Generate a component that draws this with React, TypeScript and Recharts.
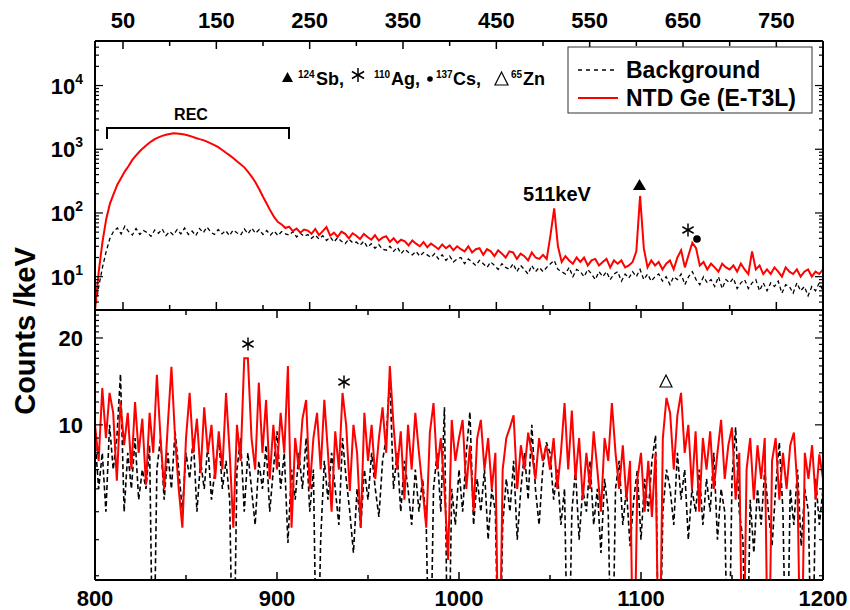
import { LineChart, Line, XAxis, YAxis } from "recharts";

const FONT = "'Liberation Sans', Arial, Helvetica, sans-serif";
const RED = "#ff0000";

// upper panel: 4 keV bins from 20 keV
const UPPER_START = 20;
const UPPER_STEP = 4;
const upperNtd = [
  3, 12, 35, 80, 140, 200, 280, 355, 450, 545,
  680, 800, 930, 1060, 1190, 1320, 1440, 1540, 1620, 1690,
  1740, 1780, 1770, 1740, 1700, 1640, 1580, 1500, 1440, 1390,
  1320, 1240, 1160, 1080, 980, 890, 810, 730, 650, 580,
  520, 440, 370, 300, 235, 180, 140, 108, 86, 72,
  66, 58, 61, 52, 57, 49, 55, 53, 47, 56,
  45, 52, 60, 44, 49, 42, 51, 47, 40, 48,
  44, 39, 47, 42, 38, 45, 37, 41, 43, 35,
  40, 34, 38, 36, 31, 37, 33, 30, 35, 29,
  33, 30, 27, 32, 28, 31, 26, 30, 27, 25,
  30, 24, 27, 28, 22, 27, 25, 21, 26, 23,
  20, 25, 24, 19, 23, 21, 18, 24, 20, 19,
  22, 19, 45, 118, 30, 17, 21, 18, 16, 20,
  17, 20, 15, 18, 19, 15, 17, 19, 14, 18,
  16, 18, 14, 15, 17, 25, 185, 28, 14, 18,
  15, 17, 13, 16, 18, 13, 20, 26, 14, 22,
  34, 28, 15, 17, 13, 16, 14, 12, 16, 14,
  13, 15, 12, 16, 13, 11, 25, 13, 15, 11,
  13, 11, 14, 12, 10, 14, 12, 11, 13, 10,
  12, 13, 10, 12, 11, 13,
];
const upperBg = [
  3, 7, 14, 25, 40, 52, 58, 47, 62, 51,
  45, 57, 46, 53, 49, 43, 54, 48, 56, 44,
  51, 45, 55, 47, 58, 46, 52, 44, 57, 49,
  60, 50, 46, 55, 47, 53, 44, 54, 49, 45,
  56, 47, 58, 48, 55, 46, 53, 45, 52, 44,
  51, 47, 45, 51, 42, 48, 43, 46, 40, 45,
  39, 44, 37, 42, 35, 41, 36, 33, 39, 34,
  35, 31, 36, 29, 33, 28, 32, 27, 26, 30,
  25, 29, 23, 27, 24, 22, 25, 21, 24, 22,
  20, 23, 19, 22, 18, 21, 17, 19, 20, 16,
  19, 17, 15, 18, 16, 14, 17, 15, 13, 16,
  14, 13, 16, 12, 15, 13, 11, 15, 12, 14,
  12, 14, 16, 18, 13, 12, 11, 14, 10, 13,
  12, 10, 13, 11, 9, 12, 10, 12, 9, 11,
  12, 8.5, 11, 9.5, 12, 10, 13, 9, 11, 8.5,
  10, 11, 8.5, 10, 7.5, 10, 9, 11, 7.5, 10,
  12, 9, 7.5, 10, 8, 9, 7, 10, 6.5, 9,
  8, 9.5, 6.5, 8, 9, 6.5, 8, 9, 6, 8,
  6, 8, 7, 8.5, 5.5, 7.5, 7, 5.5, 8, 6,
  7, 5, 7, 6, 8, 6,
];

// lower panel: 2 keV bins from 800 keV (0 = empty bin)
const LOWER_START = 800;
const LOWER_STEP = 2;
const lowerNtd = [
  10, 7.5, 13.4, 9, 12.9, 11, 6.4, 12, 8.5, 11,
  7, 12, 8, 10.5, 6.2, 11, 8, 14.9, 9, 6,
  10, 15.9, 9, 6, 4.4, 9, 12.9, 8, 10.5, 6.8,
  11.5, 8, 10, 6.5, 9.5, 7, 12.9, 8, 4.4, 10,
  7.5, 17, 17, 9, 7, 14, 8, 12.2, 6.5, 10,
  7, 11, 8, 16, 4.4, 9, 7, 10.5, 12.2, 6,
  9, 11, 7, 12.2, 8, 5, 9.5, 7, 12.9, 10,
  5.9, 10, 8, 4.4, 11, 7.5, 10, 6.5, 9, 11.5,
  8, 16, 10, 7, 9.5, 5.5, 10, 7, 11, 8,
  6, 4.4, 9.4, 11.9, 7, 9, 6, 3.4, 10.4, 7.5,
  9, 10.4, 6, 8.5, 5, 9, 10.4, 7, 9, 6,
  8, 0, 7, 9, 9.8, 10.8, 6, 8.5, 7, 9.4,
  8, 6.5, 9, 7.5, 8.5, 7, 9, 6, 8, 11.9,
  7, 11.2, 6.5, 9, 5.5, 8, 6, 9.5, 7, 5,
  9, 7.5, 11.9, 8, 6, 8.5, 5.5, 7.5, 0, 6.5,
  8, 5, 7.5, 4.8, 8, 0, 9, 12.4, 11, 7,
  10.8, 12.9, 8, 10, 6, 9.5, 5, 9, 7, 9.5,
  6, 8, 10.4, 6.5, 8.5, 9.8, 5.5, 8, 0, 7,
  9, 5.5, 8.5, 6.5, 9, 0, 7.5, 9, 5.5, 8,
  6, 8.5, 9.4, 6, 0, 8, 6.5, 8.5, 5.5, 7.9,
  6.5,
];
const lowerBg = [
  9, 6, 8, 5, 10, 7, 9, 15, 5, 8,
  6, 9, 5.5, 7, 6, 8.5, 0, 7, 9, 5.5,
  8, 6, 9.5, 7, 5, 8, 6.5, 9, 5, 7.5,
  6, 8.5, 5.5, 7, 9, 6, 7.5, 5.5, 0, 7,
  9, 5, 8, 6, 4.5, 7.5, 6, 8.5, 5, 7,
  9.5, 6, 8, 3.9, 7, 5.5, 8, 6, 9, 5,
  7, 0, 4, 7.5, 5.5, 8, 6, 4.5, 9, 6.5,
  5, 3.6, 6, 4.4, 7, 5.5, 8, 6, 4.8, 7.5,
  9, 14.6, 6, 8, 5, 7.5, 6, 4.5, 7, 5,
  6.5, 4.5, 0, 6, 8, 5, 11.5, 0, 6, 4.5,
  7, 5, 8, 11.1, 4.5, 6.5, 5, 7, 4, 6,
  5, 0, 4.5, 6.5, 5, 7.5, 4, 6, 8, 5.5,
  10, 6, 4.5, 7, 8.7, 8, 5.5, 7, 4.5, 6,
  0, 5, 7, 4, 6, 5, 7.5, 4.5, 6, 3.6,
  6.5, 5, 0, 6, 7.5, 4.5, 6, 3.8, 5.5, 7,
  4, 6.5, 5, 7.5, 9.2, 0, 5, 7, 6, 4.5,
  8, 5.5, 7, 4, 6, 5, 7, 4.5, 6.5, 5,
  8, 4, 6, 5, 0, 6.5, 9.8, 5, 4, 0,
  5.5, 3.6, 6, 4.5, 7, 5, 3.8, 6, 8.7, 5,
  0, 6, 4.5, 7, 3.8, 6, 5, 0, 6.5, 4.5,
  6,
];

const upperXTicks = [50, 100, 150, 200, 250, 300, 350, 400, 450, 500, 550, 600, 650, 700, 750];
const upperXLabels = [50, 150, 250, 350, 450, 550, 650, 750];
const lowerXTicks = [800, 850, 900, 950, 1000, 1050, 1100, 1150, 1200];
const lowerXLabels = [800, 900, 1000, 1100, 1200];
const upperYTicks = [
  3, 4, 5, 6, 7, 8, 9, 10, 20, 30, 40, 50, 60, 70, 80, 90, 100, 200, 300, 400, 500, 600, 700, 800, 900,
  1000, 2000, 3000, 4000, 5000, 6000, 7000, 8000, 9000, 10000, 20000, 30000, 40000,
];
const upperYLabels = [10, 100, 1000, 10000];
const lowerYTicks = [3, 4, 5, 6, 7, 8, 9, 10, 11, 12, 13, 14, 15, 16, 17, 18, 19, 20, 21, 22, 23, 24];
const lowerYLabels = [10, 20];

// empty bins are pushed below the log axis and clipped
const LOG_FLOOR = 1;

const upperData = upperNtd.map((v, i) => ({
  e: UPPER_START + i * UPPER_STEP,
  ntd: Math.max(v, LOG_FLOOR),
  bg: Math.max(upperBg[i] ?? 0, LOG_FLOOR),
}));
const lowerData = lowerNtd.map((v, i) => ({
  e: LOWER_START + i * LOWER_STEP,
  ntd: Math.max(v, LOG_FLOOR),
  bg: Math.max(lowerBg[i] ?? 0, LOG_FLOOR),
}));

const AXIS = { stroke: "#000", strokeWidth: 2 };

function xTick(side: "top" | "bottom", majors: number[], showLabels: boolean) {
  return (p: any) => {
    const v = p.payload.value;
    const major = majors.includes(v);
    const len = major ? 8 : 5;
    const dir = side === "top" ? 1 : -1;
    return (
      <g>
        <line x1={p.x} y1={p.y} x2={p.x} y2={p.y + dir * len} stroke="#000" strokeWidth={1.5} />
        {showLabels && major && (
          <text
            x={p.x}
            y={side === "top" ? p.y - 13 : p.y + 26}
            textAnchor="middle"
            fontFamily={FONT}
            fontWeight="bold"
            fontSize={22}
            fill="#000"
          >
            {v}
          </text>
        )}
      </g>
    );
  };
}

function yTick(side: "left" | "right", majors: number[], label: ((v: number) => any) | null) {
  return (p: any) => {
    const v = p.payload.value;
    const major = majors.includes(v);
    const len = major ? 8 : 4;
    const dir = side === "left" ? 1 : -1;
    return (
      <g>
        <line x1={p.x} y1={p.y} x2={p.x + dir * len} y2={p.y} stroke="#000" strokeWidth={1.2} />
        {label && major && (
          <text
            x={p.x - 12}
            y={p.y + 8}
            textAnchor="end"
            fontFamily={FONT}
            fontWeight="bold"
            fontSize={22}
            fill="#000"
          >
            {label(v)}
          </text>
        )}
      </g>
    );
  };
}

const powerLabel = (v: number) => (
  <>
    <tspan>10</tspan>
    <tspan dy={-10} fontSize={14}>
      {Math.round(Math.log10(v))}
    </tspan>
  </>
);

function Star({ cx, cy, r }: { cx: number; cy: number; r: number }) {
  const dx = r * Math.cos(Math.PI / 6);
  const dy = r * Math.sin(Math.PI / 6);
  return (
    <g stroke="#000" strokeWidth={1.5}>
      <line x1={cx} y1={cy - r} x2={cx} y2={cy + r} />
      <line x1={cx - dx} y1={cy - dy} x2={cx + dx} y2={cy + dy} />
      <line x1={cx - dx} y1={cy + dy} x2={cx + dx} y2={cy - dy} />
    </g>
  );
}

function UpperPanel() {
  return (
    <LineChart
      width={850}
      height={320}
      data={upperData}
      margin={{ top: 11, right: 17, bottom: 0, left: 35 }}
    >
      <XAxis
        xAxisId="b"
        dataKey="e"
        type="number"
        domain={[20, 800]}
        allowDataOverflow
        orientation="bottom"
        height={10}
        ticks={upperXTicks}
        interval={0}
        tickSize={0}
        tickMargin={0}
        tickLine={false}
        axisLine={AXIS}
        tick={xTick("bottom", upperXLabels, false)}
      />
      <XAxis
        xAxisId="t"
        dataKey="e"
        type="number"
        domain={[20, 800]}
        allowDataOverflow
        orientation="top"
        height={30}
        ticks={upperXTicks}
        interval={0}
        tickSize={0}
        tickMargin={0}
        tickLine={false}
        axisLine={AXIS}
        tick={xTick("top", upperXLabels, true)}
      />
      <YAxis
        yAxisId="l"
        type="number"
        scale="log"
        domain={[3, 50000]}
        allowDataOverflow
        width={60}
        ticks={upperYTicks}
        interval={0}
        tickSize={0}
        tickMargin={0}
        tickLine={false}
        axisLine={AXIS}
        tick={yTick("left", upperYLabels, powerLabel)}
      />
      <YAxis
        yAxisId="r"
        orientation="right"
        type="number"
        scale="log"
        domain={[3, 50000]}
        allowDataOverflow
        width={10}
        ticks={upperYTicks}
        interval={0}
        tickSize={0}
        tickMargin={0}
        tickLine={false}
        axisLine={AXIS}
        tick={yTick("right", upperYLabels, null)}
      />
      <Line
        xAxisId="b"
        yAxisId="l"
        dataKey="bg"
        stroke="#000"
        strokeWidth={1.3}
        strokeDasharray="4 3"
        dot={false}
        isAnimationActive={false}
      />
      <Line
        xAxisId="b"
        yAxisId="l"
        dataKey="ntd"
        stroke={RED}
        strokeWidth={2}
        dot={false}
        isAnimationActive={false}
      />
    </LineChart>
  );
}

function LowerPanel() {
  return (
    <LineChart
      width={850}
      height={310}
      data={lowerData}
      margin={{ top: 0, right: 17, bottom: 0, left: 35 }}
    >
      <XAxis
        xAxisId="b"
        dataKey="e"
        type="number"
        domain={[800, 1200]}
        allowDataOverflow
        orientation="bottom"
        height={30}
        ticks={lowerXTicks}
        interval={0}
        tickSize={0}
        tickMargin={0}
        tickLine={false}
        axisLine={AXIS}
        tick={xTick("bottom", lowerXLabels, true)}
      />
      <XAxis
        xAxisId="t"
        dataKey="e"
        type="number"
        domain={[800, 1200]}
        allowDataOverflow
        orientation="top"
        height={10}
        ticks={lowerXTicks}
        interval={0}
        tickSize={0}
        tickMargin={0}
        tickLine={false}
        axisLine={AXIS}
        tick={xTick("top", lowerXLabels, false)}
      />
      <YAxis
        yAxisId="l"
        type="number"
        scale="log"
        domain={[2.9, 25]}
        allowDataOverflow
        width={60}
        ticks={lowerYTicks}
        interval={0}
        tickSize={0}
        tickMargin={0}
        tickLine={false}
        axisLine={AXIS}
        tick={yTick("left", lowerYLabels, (v) => String(v))}
      />
      <YAxis
        yAxisId="r"
        orientation="right"
        type="number"
        scale="log"
        domain={[2.9, 25]}
        allowDataOverflow
        width={10}
        ticks={lowerYTicks}
        interval={0}
        tickSize={0}
        tickMargin={0}
        tickLine={false}
        axisLine={AXIS}
        tick={yTick("right", lowerYLabels, null)}
      />
      <Line
        xAxisId="b"
        yAxisId="l"
        dataKey="bg"
        stroke="#000"
        strokeWidth={1.6}
        strokeDasharray="5 3"
        dot={false}
        isAnimationActive={false}
      />
      <Line
        xAxisId="b"
        yAxisId="l"
        dataKey="ntd"
        stroke={RED}
        strokeWidth={2}
        dot={false}
        isAnimationActive={false}
      />
    </LineChart>
  );
}

export default function App() {
  const bold = { fontFamily: FONT, fontWeight: "bold" as const, fill: "#000" };
  return (
    <div style={{ position: "absolute", left: 0, top: 0, width: 850, height: 610, background: "#fff" }}>
      <div style={{ position: "absolute", left: 0, top: 0 }}>
        <UpperPanel />
      </div>
      <div style={{ position: "absolute", left: 0, top: 300 }}>
        <LowerPanel />
      </div>
      <svg
        width={850}
        height={610}
        style={{ position: "absolute", left: 0, top: 0, pointerEvents: "none" }}
      >
        {/* y title shared by both panels */}
        <text transform="translate(35,331) rotate(-90)" textAnchor="middle" fontSize={29} {...bold}>
          Counts /keV
        </text>

        {/* isotope key */}
        <polygon points="282,82 293,82 287.5,72" fill="#000" />
        <text x={298} y={78} fontSize={10} {...bold}>124</text>
        <text x={316} y={85} fontSize={18} {...bold}>Sb,</text>
        <Star cx={358} cy={75} r={7} />
        <text x={374} y={78} fontSize={10} {...bold}>110</text>
        <text x={391} y={85} fontSize={18} {...bold}>Ag,</text>
        <circle cx={430} cy={79} r={2.8} fill="#000" />
        <text x={436} y={78} fontSize={10} {...bold}>137</text>
        <text x={453} y={85} fontSize={18} {...bold}>Cs,</text>
        <polygon points="495,85 508,85 501.5,72" fill="none" stroke="#000" strokeWidth={1.2} />
        <text x={511} y={78} fontSize={10} {...bold}>65</text>
        <text x={523} y={85} fontSize={18} {...bold}>Zn</text>

        {/* legend */}
        <rect x={568} y={47} width={244} height={66} fill="#fff" stroke="#333" strokeWidth={1} />
        <line x1={578} y1={70} x2={616} y2={70} stroke="#000" strokeWidth={1.5} strokeDasharray="4 4" />
        <text x={626} y={78} fontSize={23} {...bold}>Background</text>
        <line x1={578} y1={98} x2={618} y2={98} stroke={RED} strokeWidth={2} />
        <text x={626} y={106} fontSize={23} {...bold}>NTD Ge (E-T3L)</text>

        {/* REC bracket */}
        <text x={191} y={120} textAnchor="middle" fontSize={16} {...bold}>REC</text>
        <polyline points="107,139 107,128 289,128 289,139" fill="none" stroke="#000" strokeWidth={2} />

        {/* peak marks */}
        <text x={557} y={201} textAnchor="middle" fontSize={20} {...bold}>511keV</text>
        <polygon points="633,190 646,190 639.5,179" fill="#000" />
        <Star cx={688} cy={230} r={6.5} />
        <circle cx={697} cy={239} r={3.8} fill="#000" />
        <Star cx={248} cy={344} r={6.5} />
        <Star cx={344} cy={382} r={6.5} />
        <polygon points="660,387 672,387 666,375" fill="none" stroke="#000" strokeWidth={1.2} />
      </svg>
    </div>
  );
}
